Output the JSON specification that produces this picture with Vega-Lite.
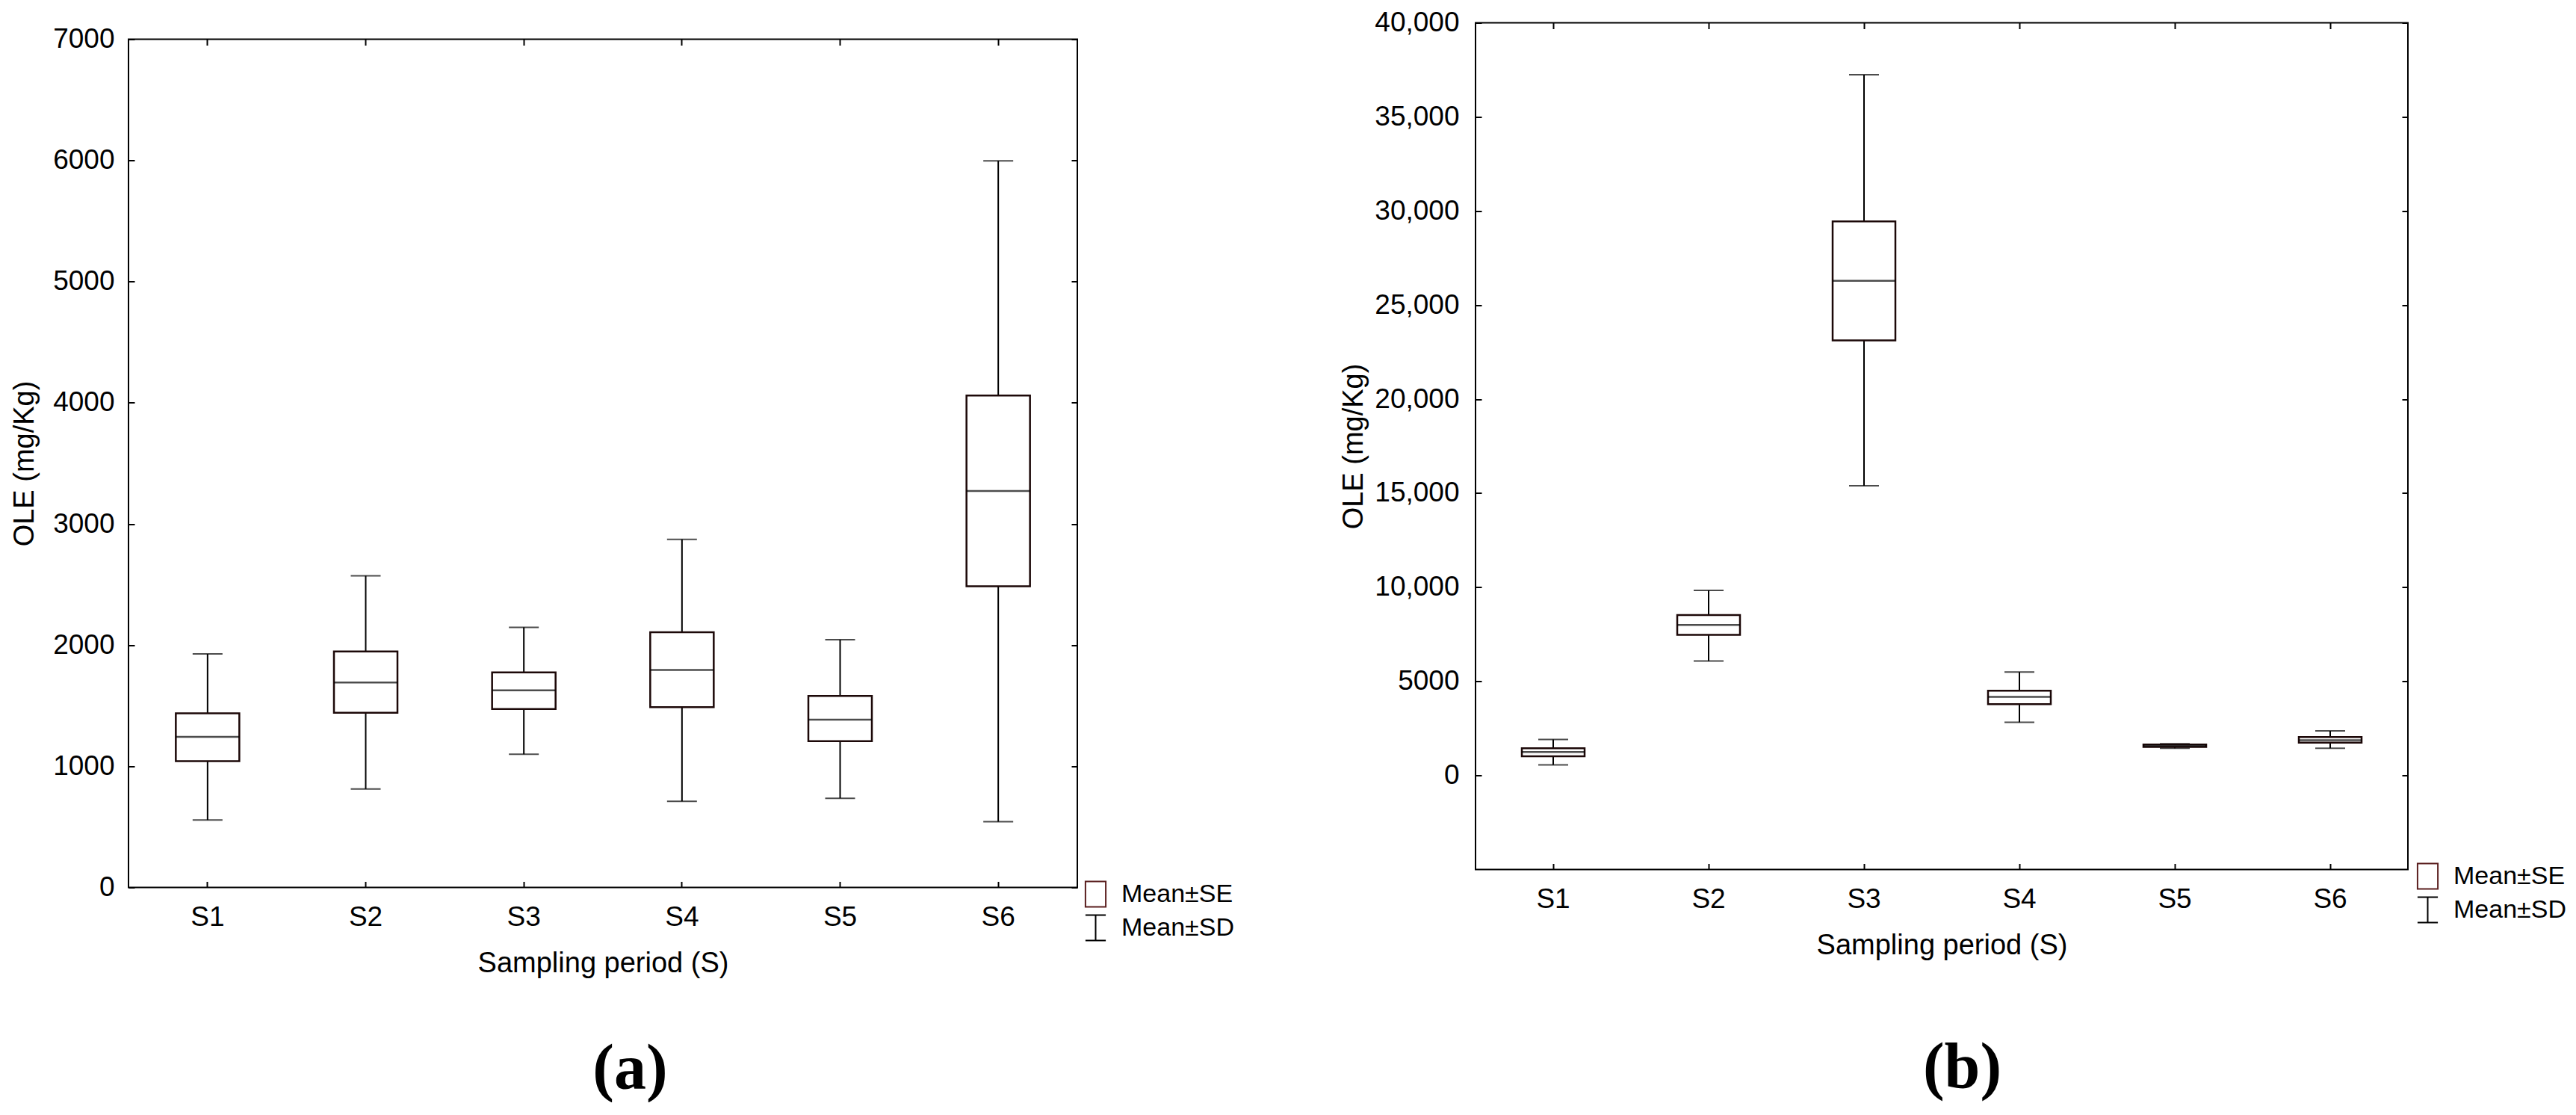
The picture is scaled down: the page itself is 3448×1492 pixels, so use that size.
{
  "$schema": "https://vega.github.io/schema/vega-lite/v6.json",
  "background": "white",
  "padding": {"left": 13, "top": 10.5, "right": 0, "bottom": 0},
  "config": {
    "font": "Liberation Sans",
    "view": {"stroke": "black", "strokeWidth": 2},
    "axis": {"grid": false, "labelColor": "black", "titleColor": "black", "titleFontWeight": "normal", "labelFont": "Liberation Sans", "titleFont": "Liberation Sans"},
    "legend": {"padding": 0}
  },
  "datasets": {
    "a": [
      {"S": "S1", "mean": 1242, "se_lo": 1043, "se_hi": 1437, "sd_lo": 557, "sd_hi": 1927},
      {"S": "S2", "mean": 1692, "se_lo": 1442, "se_hi": 1948, "sd_lo": 813, "sd_hi": 2572},
      {"S": "S3", "mean": 1626, "se_lo": 1472, "se_hi": 1774, "sd_lo": 1099, "sd_hi": 2147},
      {"S": "S4", "mean": 1794, "se_lo": 1488, "se_hi": 2106, "sd_lo": 711, "sd_hi": 2873},
      {"S": "S5", "mean": 1385, "se_lo": 1207, "se_hi": 1580, "sd_lo": 736, "sd_hi": 2045},
      {"S": "S6", "mean": 3272, "se_lo": 2485, "se_hi": 4059, "sd_lo": 542, "sd_hi": 5997}
    ],
    "b": [
      {"S": "S1", "mean": 1250, "se_lo": 1020, "se_hi": 1447, "sd_lo": 559, "sd_hi": 1908},
      {"S": "S2", "mean": 7993, "se_lo": 7467, "se_hi": 8520, "sd_lo": 6086, "sd_hi": 9836},
      {"S": "S3", "mean": 26283, "se_lo": 23125, "se_hi": 29441, "sd_lo": 15395, "sd_hi": 37237},
      {"S": "S4", "mean": 4178, "se_lo": 3783, "se_hi": 4507, "sd_lo": 2829, "sd_hi": 5493},
      {"S": "S5", "mean": 1580, "se_lo": 1513, "se_hi": 1645, "sd_lo": 1447, "sd_hi": 1678},
      {"S": "S6", "mean": 1875, "se_lo": 1743, "se_hi": 2039, "sd_lo": 1447, "sd_hi": 2368}
    ],
    "leg": [{"k": "Mean±SE"}, {"k": "Mean±SD"}],
    "blank": [{"z": 0}]
  },
  "hconcat": [
    {
      "spacing": 0,
      "resolve": {"scale": {"shape": "independent", "color": "independent"}, "legend": {"shape": "independent", "color": "independent"}},
      "vconcat": [
        {
          "width": 1270,
          "height": 1.5,
          "view": {"stroke": null},
          "data": {"name": "blank"},
          "mark": {"type": "point", "opacity": 0, "size": 1},
          "encoding": {}
        },
        {
          "width": 1270,
          "height": 1135,
          "data": {"name": "a"},
          "layer": [
            {
              "mark": {"type": "rule", "color": "black", "strokeWidth": 2},
              "encoding": {
                "x": {"field": "S", "type": "nominal", "scale": {"type": "band", "paddingInner": 0, "paddingOuter": 0},
                  "axis": {"orient": "bottom", "ticks": false, "domain": false, "labelAngle": 0, "bandPosition": 0.5, "labelFontSize": 37, "labelPadding": 22, "title": "Sampling period (S)", "titleFontSize": 38, "titlePadding": 25}},
                "y": {"field": "sd_lo", "type": "quantitative", "scale": {"domain": [0, 7000], "nice": false, "zero": false},
                  "axis": {"orient": "left", "ticks": false, "domain": false, "values": [0, 1000, 2000, 3000, 4000, 5000, 6000, 7000], "labelExpr": "format(datum.value, 'd')", "labelFontSize": 37, "labelPadding": 19, "title": "OLE (mg/Kg)", "titleFontSize": 38, "titlePadding": 18}},
                "y2": {"field": "sd_hi"}
              }
            },
            {
              "mark": {"type": "tick", "size": 40, "thickness": 2, "color": "black"},
              "encoding": {
                "x": {"field": "S", "type": "nominal", "scale": {"type": "band", "paddingInner": 0, "paddingOuter": 0},
                  "axis": {"orient": "bottom", "offset": -8, "tickSize": 8, "tickWidth": 2, "tickColor": "black", "bandPosition": 0.5, "labels": false, "domain": false, "title": null}},
                "y": {"field": "sd_lo", "type": "quantitative",
                  "axis": {"orient": "left", "offset": -8, "tickSize": 8, "tickWidth": 2, "tickColor": "black", "values": [0, 1000, 2000, 3000, 4000, 5000, 6000, 7000], "labels": false, "domain": false, "title": null}}
              }
            },
            {
              "mark": {"type": "tick", "size": 40, "thickness": 2, "color": "black"},
              "encoding": {
                "x": {"field": "S", "type": "nominal", "scale": {"type": "band", "paddingInner": 0, "paddingOuter": 0},
                  "axis": {"orient": "top", "offset": -8, "tickSize": 8, "tickWidth": 2, "tickColor": "black", "bandPosition": 0.5, "labels": false, "domain": false, "title": null}},
                "y": {"field": "sd_hi", "type": "quantitative",
                  "axis": {"orient": "right", "offset": -8, "tickSize": 8, "tickWidth": 2, "tickColor": "black", "values": [0, 1000, 2000, 3000, 4000, 5000, 6000, 7000], "labels": false, "domain": false, "title": null}}
              }
            },
            {
              "mark": {"type": "bar", "width": 85, "fill": "white", "stroke": "#1c0808", "strokeWidth": 2.5},
              "encoding": {
                "x": {"field": "S", "type": "nominal", "scale": {"type": "band", "paddingInner": 0, "paddingOuter": 0},
                  "axis": {"orient": "bottom", "labels": false, "ticks": false, "domain": false, "title": "(a)", "titleFont": "Liberation Serif", "titleFontWeight": "bold", "titleFontSize": 86, "titlePadding": 201, "titleX": 671, "titleAlign": "center"}},
                "y": {"field": "se_lo", "type": "quantitative", "axis": null},
                "y2": {"field": "se_hi"}
              }
            },
            {
              "mark": {"type": "tick", "size": 85, "thickness": 2.5, "color": "black"},
              "encoding": {
                "x": {"field": "S", "type": "nominal", "scale": {"type": "band", "paddingInner": 0, "paddingOuter": 0}, "axis": null},
                "y": {"field": "mean", "type": "quantitative", "axis": null}
              }
            },
            {
              "data": {"name": "leg"},
              "mark": {"type": "point", "filled": false, "opacity": 0},
              "encoding": {
                "shape": {"field": "k", "type": "nominal",
                  "scale": {"domain": ["Mean±SE", "Mean±SD"], "range": ["M-0.8,-1H0.8V1H-0.8Z", "M-0.8,-1H0.8M0,-1V1M-0.8,1H0.8"]},
                  "legend": {"title": null, "orient": "none", "legendX": 1276.5, "legendY": 1126, "symbolSize": 1156, "symbolStrokeWidth": 2, "labelFontSize": 34, "labelOffset": 16.5, "rowPadding": 3, "labelColor": "black"}},
                "color": {"field": "k", "type": "nominal",
                  "scale": {"domain": ["Mean±SE", "Mean±SD"], "range": ["#5a1e1e", "#000000"]},
                  "legend": {"title": null, "orient": "none", "legendX": 1276.5, "legendY": 1126, "symbolSize": 1156, "symbolStrokeWidth": 2, "labelFontSize": 34, "labelOffset": 16.5, "rowPadding": 3, "labelColor": "black"}}
              }
            }
          ],
          "resolve": {"axis": {"x": "independent", "y": "independent"}}
        }
      ]
    },
    {
      "width": 1248,
      "height": 1133,
      "data": {"name": "b"},
      "layer": [
        {
          "mark": {"type": "rule", "color": "black", "strokeWidth": 2},
          "encoding": {
            "x": {"field": "S", "type": "nominal", "scale": {"type": "band", "paddingInner": 0, "paddingOuter": 0},
              "axis": {"orient": "bottom", "ticks": false, "domain": false, "labelAngle": 0, "bandPosition": 0.5, "labelFontSize": 37, "labelPadding": 22, "title": "Sampling period (S)", "titleFontSize": 38, "titlePadding": 25}},
            "y": {"field": "sd_lo", "type": "quantitative", "scale": {"domain": [-5000, 40000], "nice": false, "zero": false},
              "axis": {"orient": "left", "ticks": false, "domain": false, "values": [0, 5000, 10000, 15000, 20000, 25000, 30000, 35000, 40000], "labelExpr": "datum.value >= 10000 ? format(datum.value, ',') : format(datum.value, 'd')", "labelFontSize": 37, "labelPadding": 22, "title": "OLE (mg/Kg)", "titleFontSize": 38, "titlePadding": 8}},
            "y2": {"field": "sd_hi"}
          }
        },
        {
          "mark": {"type": "tick", "size": 40, "thickness": 2, "color": "black"},
          "encoding": {
            "x": {"field": "S", "type": "nominal", "scale": {"type": "band", "paddingInner": 0, "paddingOuter": 0},
              "axis": {"orient": "bottom", "offset": -8, "tickSize": 8, "tickWidth": 2, "tickColor": "black", "bandPosition": 0.5, "labels": false, "domain": false, "title": null}},
            "y": {"field": "sd_lo", "type": "quantitative",
              "axis": {"orient": "left", "offset": -8, "tickSize": 8, "tickWidth": 2, "tickColor": "black", "values": [0, 5000, 10000, 15000, 20000, 25000, 30000, 35000, 40000], "labels": false, "domain": false, "title": null}}
          }
        },
        {
          "mark": {"type": "tick", "size": 40, "thickness": 2, "color": "black"},
          "encoding": {
            "x": {"field": "S", "type": "nominal", "scale": {"type": "band", "paddingInner": 0, "paddingOuter": 0},
              "axis": {"orient": "top", "offset": -8, "tickSize": 8, "tickWidth": 2, "tickColor": "black", "bandPosition": 0.5, "labels": false, "domain": false, "title": null}},
            "y": {"field": "sd_hi", "type": "quantitative",
              "axis": {"orient": "right", "offset": -8, "tickSize": 8, "tickWidth": 2, "tickColor": "black", "values": [0, 5000, 10000, 15000, 20000, 25000, 30000, 35000, 40000], "labels": false, "domain": false, "title": null}}
          }
        },
        {
          "mark": {"type": "bar", "width": 84, "fill": "white", "stroke": "#1c0808", "strokeWidth": 2.5},
          "encoding": {
            "x": {"field": "S", "type": "nominal", "scale": {"type": "band", "paddingInner": 0, "paddingOuter": 0},
              "axis": {"orient": "bottom", "labels": false, "ticks": false, "domain": false, "title": "(b)", "titleFont": "Liberation Serif", "titleFontWeight": "bold", "titleFontSize": 86, "titlePadding": 223, "titleX": 651, "titleAlign": "center"}},
            "y": {"field": "se_lo", "type": "quantitative", "axis": null},
            "y2": {"field": "se_hi"}
          }
        },
        {
          "mark": {"type": "tick", "size": 84, "thickness": 2.5, "color": "black"},
          "encoding": {
            "x": {"field": "S", "type": "nominal", "scale": {"type": "band", "paddingInner": 0, "paddingOuter": 0}, "axis": null},
            "y": {"field": "mean", "type": "quantitative", "axis": null}
          }
        },
        {
          "data": {"name": "leg"},
          "mark": {"type": "point", "filled": false, "opacity": 0},
          "encoding": {
            "shape": {"field": "k", "type": "nominal",
              "scale": {"domain": ["Mean±SE", "Mean±SD"], "range": ["M-0.8,-1H0.8V1H-0.8Z", "M-0.8,-1H0.8M0,-1V1M-0.8,1H0.8"]},
              "legend": {"title": null, "orient": "none", "legendX": 1256.5, "legendY": 1124, "symbolSize": 1156, "symbolStrokeWidth": 2, "labelFontSize": 34, "labelOffset": 16.5, "rowPadding": 3, "labelColor": "black"}},
            "color": {"field": "k", "type": "nominal",
              "scale": {"domain": ["Mean±SE", "Mean±SD"], "range": ["#5a1e1e", "#000000"]},
              "legend": {"title": null, "orient": "none", "legendX": 1256.5, "legendY": 1124, "symbolSize": 1156, "symbolStrokeWidth": 2, "labelFontSize": 34, "labelOffset": 16.5, "rowPadding": 3, "labelColor": "black"}}
          }
        }
      ],
      "resolve": {"axis": {"x": "independent", "y": "independent"}}
    }
  ],
  "spacing": 138,
  "resolve": {"scale": {"shape": "independent", "color": "independent"}, "legend": {"shape": "independent", "color": "independent"}}
}
